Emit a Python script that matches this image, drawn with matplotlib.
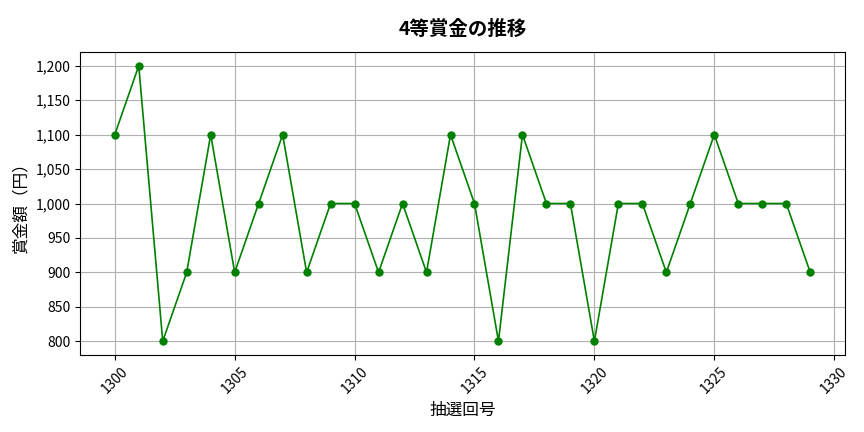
import matplotlib
matplotlib.use("Agg")
import matplotlib.pyplot as plt
from matplotlib.ticker import FuncFormatter

plt.rcParams['font.family'] = ['Noto Sans CJK JP', 'DejaVu Sans']

draws = list(range(1300, 1330))
prizes = [1100, 1200, 800, 900, 1100, 900, 1000, 1100, 900, 1000,
          1000, 900, 1000, 900, 1100, 1000, 800, 1100, 1000, 1000,
          800, 1000, 1000, 900, 1000, 1100, 1000, 1000, 1000, 900]

fig, ax = plt.subplots(figsize=(8.64, 4.32), dpi=100)
ax.plot(draws, prizes, marker='o', color='green', linewidth=1.2, markersize=5)
ax.set_title('4等賞金の推移', fontsize=14, fontweight='bold', pad=12)
ax.set_xlabel('抽選回号', fontsize=12, labelpad=4)
ax.set_ylabel('賞金額（円）', fontsize=12, labelpad=4)
ax.yaxis.set_major_formatter(FuncFormatter(lambda v, p: f'{int(v):,}'))
ax.tick_params(axis='x', rotation=45, labelsize=10)
ax.tick_params(axis='y', labelsize=10)
ax.grid(True, color='#b0b0b0', linewidth=0.8)
fig.subplots_adjust(left=80/864, right=845/864, top=1-52/432, bottom=1-355/432)
fig.savefig('out.png')
